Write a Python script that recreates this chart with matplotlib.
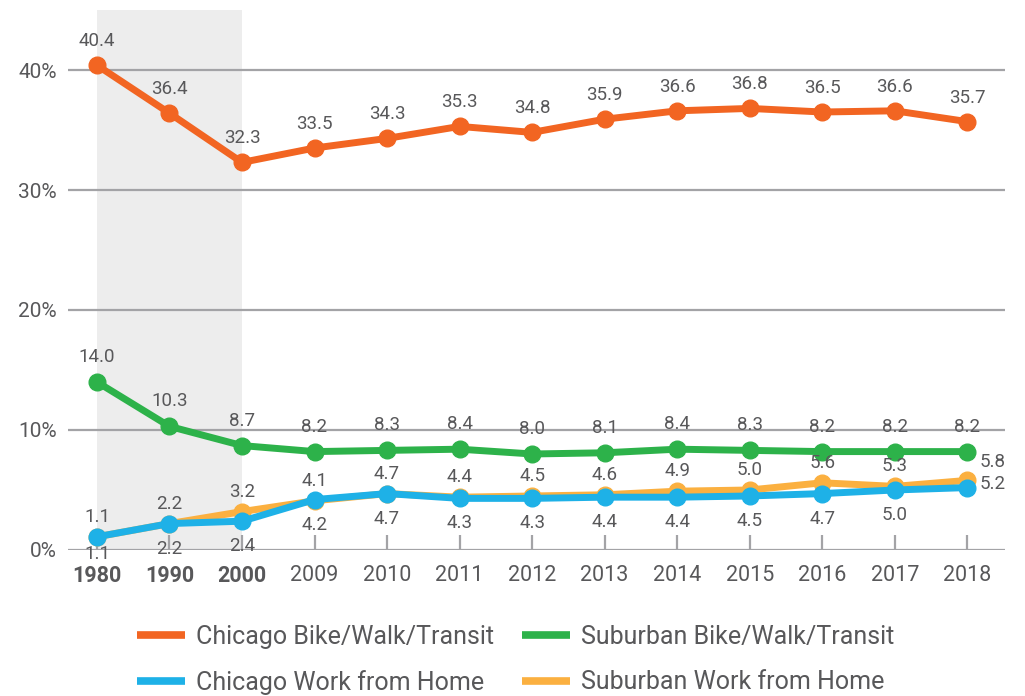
import matplotlib
matplotlib.use("Agg")
import matplotlib.pyplot as plt

plt.rcParams["font.family"] = ["Roboto", "DejaVu Sans"]

YEARS = ["1980", "1990", "2000", "2009", "2010", "2011", "2012",
         "2013", "2014", "2015", "2016", "2017", "2018"]
BOLD_YEARS = ["1980", "1990", "2000"]

chicago_bwt = [40.4, 36.4, 32.3, 33.5, 34.3, 35.3, 34.8, 35.9, 36.6, 36.8, 36.5, 36.6, 35.7]
suburban_bwt = [14.0, 10.3, 8.7, 8.2, 8.3, 8.4, 8.0, 8.1, 8.4, 8.3, 8.2, 8.2, 8.2]
chicago_wfh = [1.1, 2.2, 2.4, 4.2, 4.7, 4.3, 4.3, 4.4, 4.4, 4.5, 4.7, 5.0, 5.2]
suburban_wfh = [1.1, 2.2, 3.2, 4.1, 4.7, 4.4, 4.5, 4.6, 4.9, 5.0, 5.6, 5.3, 5.8]

Y_TICKS = [0, 10, 20, 30, 40]

ORANGE = "#f26522"
GREEN = "#2db24a"
BLUE = "#1eb1e7"
GOLD = "#fbb040"
TEXT = "#58585a"
GRID = "#a3a3a6"

fig = plt.figure(figsize=(10.25, 6.96), dpi=100)
ax = fig.add_axes([0.0663, 0.2098, 0.9142, 0.7758])

x = list(range(len(YEARS)))

ax.axvspan(0, 2, color="#ededed", zorder=0, lw=0)
for yv in Y_TICKS:
    ax.axhline(yv, color=GRID, lw=1.6, zorder=1)

# (values, colour, legend name, label offset in pixels)
series = [
    (chicago_bwt, ORANGE, "Chicago Bike/Walk/Transit", 24),
    (suburban_bwt, GREEN, "Suburban Bike/Walk/Transit", 25),
    (chicago_wfh, BLUE, "Chicago Work from Home", -25),
    (suburban_wfh, GOLD, "Suburban Work from Home", 20),
]
handles = {}
last = len(YEARS) - 1
for vals, color, name, dy in series:
    z = 4 if color == BLUE else 3
    (ln,) = ax.plot(x, vals, color=color, lw=5, marker="o", ms=12,
                    solid_capstyle="round", zorder=z, label=name)
    handles[name] = ln
    for i, v in enumerate(vals):
        if i == last and color in (BLUE, GOLD):
            off = (12, 18) if color == GOLD else (12, 4)
            ax.annotate(f"{v:.1f}", (i, v), xytext=off, textcoords="offset pixels",
                        ha="left", va="center", fontsize=13.5, color=TEXT, zorder=5)
            continue
        d = dy
        if color == BLUE and i == 0:
            d = -17
        ax.annotate(f"{v:.1f}", (i, v), xytext=(0, d), textcoords="offset pixels",
                    ha="center", va="center", fontsize=13.5, color=TEXT, zorder=5)

ax.set_xlim(-0.4, 12.52)
ax.set_ylim(0, 45)
ax.set_yticks(Y_TICKS)
ax.set_yticklabels([f"{v}%" for v in Y_TICKS])
ax.set_xticks(x)
ax.set_xticklabels(YEARS)
for lab in ax.get_xticklabels():
    if lab.get_text() in BOLD_YEARS:
        lab.set_fontweight("bold")

ax.tick_params(axis="y", length=0, labelsize=15, labelcolor=TEXT, pad=8)
ax.tick_params(axis="x", direction="in", length=11, width=1.6, color=GRID,
               labelsize=15.5, labelcolor=TEXT, pad=11)
for s in ax.spines.values():
    s.set_visible(False)

order = ["Chicago Bike/Walk/Transit", "Chicago Work from Home",
         "Suburban Bike/Walk/Transit", "Suburban Work from Home"]
leg = fig.legend([handles[n] for n in order], order, ncol=2, loc="upper left",
                 bbox_to_anchor=(0.1337, 0.102), frameon=False, fontsize=18,
                 handlelength=1.92, handletextpad=0.44, columnspacing=1.1,
                 labelspacing=0.85, borderaxespad=0, borderpad=0)
for line in leg.get_lines():
    line.set_marker("")
    line.set_linewidth(5.5)
    line.set_solid_capstyle("butt")
for t in leg.get_texts():
    t.set_color(TEXT)

fig.savefig("out.png", dpi=100)
